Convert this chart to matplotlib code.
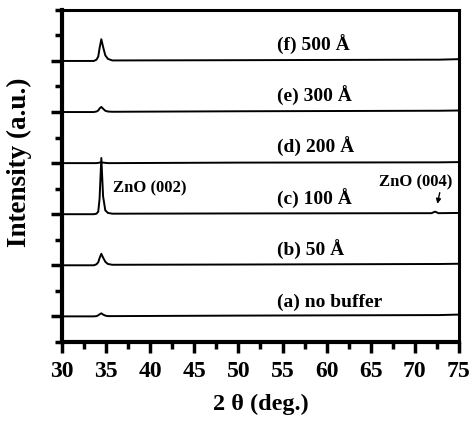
import matplotlib.pyplot as plt
from matplotlib.ticker import MultipleLocator, FixedLocator

plt.rcParams['font.family'] = ['Liberation Serif', 'DejaVu Serif']
plt.rcParams['font.weight'] = 'bold'

# 2theta (deg.) sample points shared by every pattern
two_theta = [30, 33.6, 33.9, 34.1, 34.25, 34.45, 34.65, 34.9, 35.2, 35.7, 50, 71.9, 72.3, 72.7, 75]

# intensity above each pattern's own baseline (a.u.)
int_a = [0, 0, 0.01, 0.04, 0.08, 0.12, 0.07, 0.03, 0.01, 0.01, 0.03, 0.05, 0.05, 0.05, 0.07]
int_b = [0, 0, 0.04, 0.12, 0.28, 0.45, 0.3, 0.14, 0.05, 0.02, 0.03, 0.05, 0.05, 0.05, 0.06]
int_c = [0, 0, 0.02, 0.1, 0.6, 2.2, 0.7, 0.15, 0.05, 0.02, 0.03, 0.04, 0.1, 0.04, 0.05]
int_d = [0, 0, 0, 0.01, 0.02, 0.03, 0.02, 0.01, 0, 0, 0.02, 0.03, 0.03, 0.03, 0.04]
int_e = [0, 0, 0.02, 0.06, 0.14, 0.2, 0.13, 0.05, 0.02, 0.01, 0.03, 0.05, 0.05, 0.05, 0.06]
int_f = [0, 0, 0.05, 0.17, 0.5, 0.85, 0.55, 0.22, 0.08, 0.02, 0.03, 0.05, 0.05, 0.05, 0.07]

patterns = [int_a, int_b, int_c, int_d, int_e, int_f]
offsets = [1, 3, 5, 7, 9, 11]
labels = ['(a) no buffer', '(b) 50 Å', '(c) 100 Å', '(d) 200 Å', '(e) 300 Å', '(f) 500 Å']

fig = plt.figure(figsize=(4.74, 4.29), dpi=100)
ax = fig.add_axes([0.131, 0.203, 0.837, 0.774])

for ys, off, lab in zip(patterns, offsets, labels):
    ax.plot(two_theta, [y + off for y in ys], color='black', lw=1.4)
    ax.text(54.4, off + 0.38, lab, fontsize=14, fontweight='bold',
            va='baseline', ha='left')

ax.text(35.8, 5.85, 'ZnO (002)', fontsize=12, fontweight='bold', va='baseline', ha='left')
ax.text(66.0, 6.1, 'ZnO (004)', fontsize=12, fontweight='bold', va='baseline', ha='left')
ax.annotate('', xy=(72.5, 5.3), xytext=(72.9, 5.95),
            arrowprops=dict(arrowstyle='-|>', color='black', lw=1, mutation_scale=7))

ax.set_xlim(30, 75)
ax.set_ylim(0, 13)
ax.xaxis.set_major_locator(MultipleLocator(5))
ax.xaxis.set_minor_locator(MultipleLocator(2.5))
ax.yaxis.set_major_locator(FixedLocator(offsets))
ax.yaxis.set_minor_locator(FixedLocator([0, 2, 4, 6, 8, 10, 12, 13]))
ax.set_yticklabels([])
ax.tick_params(axis='both', which='major', direction='out', length=8, width=2.5)
ax.tick_params(axis='both', which='minor', direction='out', length=5, width=2.5)
ax.tick_params(axis='x', labelsize=17, pad=6)
for t in ax.get_xticklabels():
    t.set_fontweight('bold')

for side in ['left', 'bottom']:
    ax.spines[side].set_linewidth(3)
for side in ['top', 'right']:
    ax.spines[side].set_linewidth(2.2)

ax.set_xlabel('2 θ (deg.)', fontsize=17.5, fontweight='bold', labelpad=8)
ax.set_ylabel('Intensity (a.u.)', fontsize=19.5, fontweight='bold')
ax.yaxis.set_label_coords(-0.075, 0.54)

fig.savefig('out.png', dpi=100)
